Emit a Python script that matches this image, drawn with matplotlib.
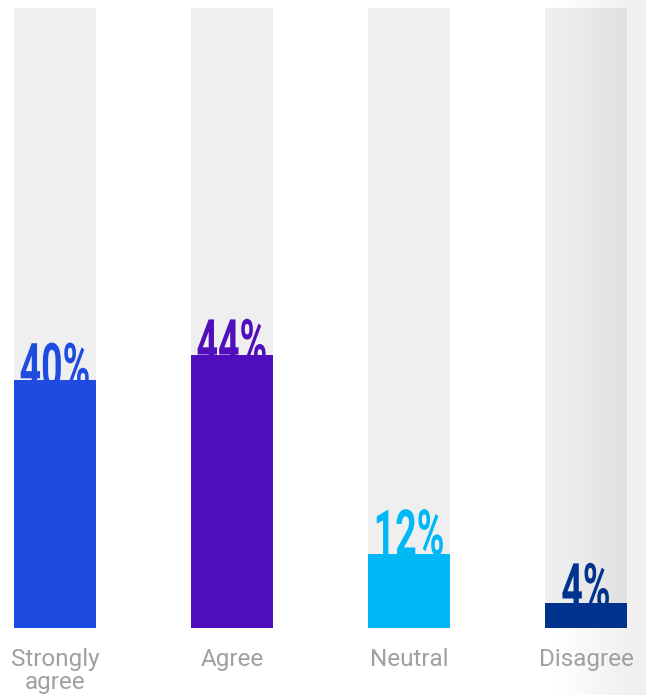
import matplotlib
matplotlib.use("Agg")
import matplotlib.pyplot as plt
import matplotlib.patheffects as pe
from matplotlib.transforms import Affine2D
import numpy as np

# survey answers and their shares (%)
categories = ["Strongly\nagree", "Agree", "Neutral", "Disagree"]
values = [40, 44, 12, 4]
bar_colors = ["#1E4BE0", "#510EBC", "#00B8F5", "#00338D"]

track_color = "#EFEFEF"
label_grey = "#A0A0A0"

# how far (in px) each value label sinks behind its bar
label_drop = [8, 9, 1, 5]

PX_X = 177.0   # px per category step
PX_Y = 6.2     # px per percentage point


class Tall(pe.AbstractPathEffect):
    """Stretch glyphs upward from their baseline (condensed look)."""

    def __init__(self, sy):
        super().__init__()
        self.sy = sy

    def draw_path(self, renderer, gc, tpath, affine, rgbFace=None):
        renderer.draw_path(gc, tpath, Affine2D().scale(1, self.sy) + affine,
                           rgbFace)


fig = plt.figure(figsize=(6.46, 6.95), dpi=100)
ax = fig.add_axes([0, 0, 1, 1])

xs = np.arange(len(values))
width = 82 / PX_X

ax.set_xlim(-55 / PX_X, 3 + 60 / PX_X)
ax.set_ylim(-67 / PX_Y, 100 + 8 / PX_Y)

# grey full-height tracks behind each bar
ax.bar(xs, [100] * len(values), width=width, color=track_color, zorder=1)

# soft grey shading on the right edge
x0, x1 = ax.get_xlim()
y0, y1 = ax.get_ylim()
cols = np.linspace(x0, x1, 400)
ramp = np.interp(cols, [(550 - 55) / PX_X, (627 - 55) / PX_X], [0.0, 0.06])
shade = np.zeros((2, cols.size, 4))
shade[..., 3] = ramp
ax.imshow(shade, extent=[x0, x1, y0, y1], aspect="auto", zorder=1.5,
          interpolation="bilinear")

for x, v, c, drop in zip(xs, values, bar_colors, label_drop):
    ax.text(x, v - drop / PX_Y, f"{v}%", ha="center", va="baseline", color=c,
            fontsize=27, fontweight="bold", family=["Roboto", "DejaVu Sans"],
            path_effects=[Tall(1.68)], zorder=1.8)

ax.bar(xs, values, width=width, color=bar_colors, zorder=2)

for x, name in zip(xs, categories):
    extra = name.count("\n")
    ax.text(x, -(38 + 23 * extra) / PX_Y, name, ha="center", va="baseline",
            color=label_grey, fontsize=17.5, family=["Roboto", "DejaVu Sans"],
            linespacing=1.0, zorder=3)

ax.axis("off")

fig.savefig("out.png", dpi=100)
